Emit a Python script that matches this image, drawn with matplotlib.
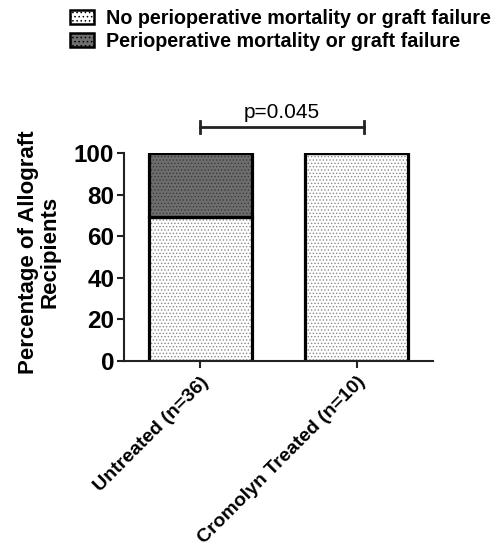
import numpy as np
import matplotlib
matplotlib.use("Agg")
import matplotlib.pyplot as plt
from matplotlib.patches import Patch

plt.rcParams['font.family'] = ['Liberation Sans', 'DejaVu Sans']

# data
groups = ['Untreated (n=36)', 'Cromolyn Treated (n=10)']
no_failure = [69.4, 100.0]
failure = [30.6, 0.0]
legend_labels = ['No perioperative mortality or graft failure',
                 'Perioperative mortality or graft failure']
p_text = 'p=0.045'

light = '#ffffff'
dark = '#6e6e6e'

fig = plt.figure(figsize=(4.95, 5.5), dpi=100)
ax = fig.add_axes([0.2505, 0.3436, 0.6245, 0.3782])

x = np.arange(len(groups))
w = 0.66

# hatched fills (grey dots), then black outlines on top
plt.rcParams['hatch.linewidth'] = 0.6
ax.bar(x, no_failure, w, color=light, edgecolor='#8a8a8a', hatch='.....', linewidth=0)
ax.bar(x, failure, w, bottom=no_failure, color=dark, edgecolor='#3a3a3a', hatch='.....', linewidth=0)
ax.bar(x, no_failure, w, fill=False, edgecolor='black', linewidth=2.3)
ax.bar(x, failure, w, bottom=no_failure, fill=False, edgecolor='black', linewidth=2.3)

ax.set_xlim(-0.49, 1.49)
ax.set_ylim(0, 100)
ax.set_yticks([0, 20, 40, 60, 80, 100])
ax.set_xticks(x)
ax.set_xticklabels(groups, rotation=45, ha='right', rotation_mode='anchor',
                   fontsize=14, fontweight='bold')
for lab in ax.get_yticklabels():
    lab.set_fontsize(17.5)
    lab.set_fontweight('bold')
ax.tick_params(axis='both', width=1.5, length=5, color='#222222')
ax.tick_params(axis='x', pad=4)
ax.tick_params(axis='y', pad=2)
for s in ['top', 'right']:
    ax.spines[s].set_visible(False)
for s in ['left', 'bottom']:
    ax.spines[s].set_linewidth(1.5)
    ax.spines[s].set_color('#222222')

ax.set_ylabel('Percentage of Allograft\nRecipients', fontsize=16, fontweight='bold',
              linespacing=1.05)
ax.yaxis.set_label_coords(-0.205, 0.525)

# significance bracket
yb = 112.5
ax.plot([x[0], x[1] + 0.045], [yb, yb], color='#222222', lw=2, clip_on=False)
for xx in [x[0], x[1] + 0.045]:
    ax.plot([xx, xx], [yb - 3, yb + 3], color='#222222', lw=2, clip_on=False)
ax.text((x[0] + x[1]) / 2 + 0.02, yb + 2.5, p_text, ha='center', va='bottom',
        fontsize=15, clip_on=False)

handles = [Patch(facecolor=light, edgecolor='black', hatch='....', linewidth=1.8),
           Patch(facecolor=dark, edgecolor='black', hatch='....', linewidth=1.8)]
fig.legend(handles, legend_labels, loc='upper left', bbox_to_anchor=(70 / 495, 1 - 9 / 550),
           frameon=False, prop={'size': 14.2, 'weight': 'bold'},
           handlelength=1.2, handleheight=0.7, handletextpad=0.65,
           labelspacing=0.2, borderpad=0, borderaxespad=0)

fig.savefig('out.png', dpi=100)
